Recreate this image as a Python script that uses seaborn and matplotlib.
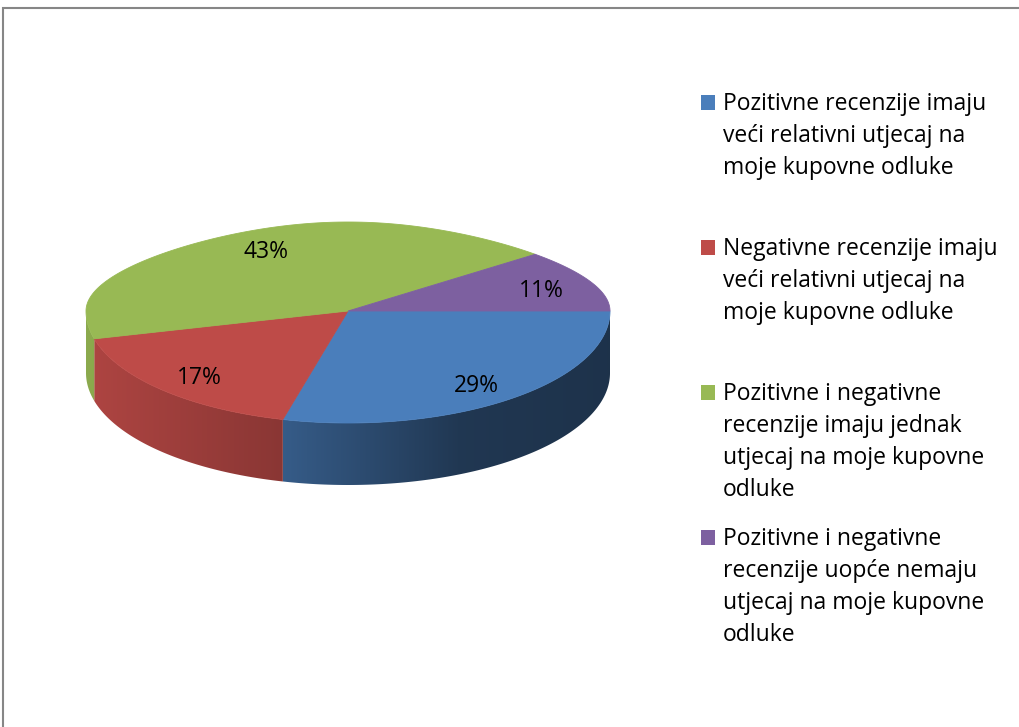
import numpy as np
import matplotlib
matplotlib.use("Agg")
import matplotlib.pyplot as plt
from matplotlib.patches import Polygon, Rectangle
from matplotlib.colors import to_rgb
import seaborn as sns

# ---- data -------------------------------------------------------------
categories = [
    "Pozitivne recenzije imaju\nveći relativni utjecaj na\nmoje kupovne odluke",
    "Negativne recenzije imaju\nveći relativni utjecaj na\nmoje kupovne odluke",
    "Pozitivne i negativne\nrecenzije imaju jednak\nutjecaj na moje kupovne\nodluke",
    "Pozitivne i negativne\nrecenzije uopće nemaju\nutjecaj na moje kupovne\nodluke",
]
shares = [29, 17, 43, 11]
slice_colors = ["#4a7ebb", "#be4b48", "#98b954", "#7d60a0"]

# ---- style ------------------------------------------------------------
sns.set_theme(style="white")
plt.rcParams["font.family"] = ["Open Sans", "DejaVu Sans"]
palette = sns.color_palette(slice_colors)

W, H = 1020, 727
fig = plt.figure(figsize=(W / 100, H / 100), dpi=100)
ax = fig.add_axes([0, 0, 1, 1])
ax.set_xlim(0, W)
ax.set_ylim(H, 0)
ax.axis("off")

# ---- 3-D pie geometry (pixel space) -----------------------------------
CX, CY = 348, 311          # apex of the wedges
A = 262                    # horizontal radius
B_BACK, B_FRONT = 89, 112  # vertical radius behind / in front of the apex
SQUEEZE = 0.18             # perspective narrowing of the far half
DEPTH = 62                 # thickness of the disc


def rim(theta_deg, r=1.0):
    t = np.radians(np.asarray(theta_deg, dtype=float))
    s, c = np.sin(t), np.cos(t)
    back = s > 0
    x = CX + A * r * c * np.where(back, 1 - SQUEEZE * s ** 2, 1.0)
    y = CY - r * s * np.where(back, B_BACK, B_FRONT)
    return x, y


def wall_shade(x):
    return np.interp(x, [86, 288, 460, 610], [0.92, 0.72, 0.44, 0.40])


# slices run clockwise from 3 o'clock
bounds = np.concatenate([[0.0], -360.0 * np.cumsum(shares) / sum(shares)])

# side walls (only the near half of the rim is visible), shaded left -> right
for i, col in enumerate(palette):
    hi, lo = bounds[i], bounds[i + 1]
    lo_v, hi_v = max(lo, -180.0), min(hi, 0.0)
    if lo_v >= hi_v:
        continue
    th = np.linspace(hi_v, lo_v, 200)
    xs, ys = rim(th)
    outline = np.column_stack([np.r_[xs, xs[::-1]],
                               np.r_[ys, ys[::-1] + DEPTH]])
    wall = Polygon(outline, closed=True, facecolor="none", edgecolor="none")
    ax.add_patch(wall)
    x0, x1 = outline[:, 0].min() - 1, outline[:, 0].max() + 1
    y0, y1 = outline[:, 1].min() - 1, outline[:, 1].max() + 1
    gx = np.linspace(x0, x1, 400)
    grad = np.clip(np.array(to_rgb(col))[None, :] * wall_shade(gx)[:, None], 0, 1)
    img = ax.imshow(grad[None, :, :], extent=(x0, x1, y1, y0), aspect="auto",
                    interpolation="bilinear", zorder=2)
    img.set_clip_path(wall)

ax.set_xlim(0, W)
ax.set_ylim(H, 0)

# top faces
for i, col in enumerate(palette):
    th = np.linspace(bounds[i], bounds[i + 1], 200)
    xs, ys = rim(th)
    pts = np.column_stack([np.r_[CX, xs], np.r_[CY, ys]])
    ax.add_patch(Polygon(pts, closed=True, facecolor=col, edgecolor=col,
                         linewidth=0.6, zorder=3))

# percentage labels
for i, v in enumerate(shares):
    mid = 0.5 * (bounds[i] + bounds[i + 1])
    lx, ly = rim(mid, 0.8)
    ax.text(float(lx), float(ly) + 4, f"{v}%", ha="center", va="center",
            fontsize=16.5, color="black", zorder=4)

# ---- legend ------------------------------------------------------------
LEG_X, LEG_Y0, LEG_STEP, LINE_STEP = 701, 102.5, 145, 32
for i, (label, col) in enumerate(zip(categories, palette)):
    yc = LEG_Y0 + i * LEG_STEP
    ax.add_patch(Rectangle((LEG_X, yc - 7.5), 14, 15, facecolor=col,
                           edgecolor="none", zorder=3))
    for j, line in enumerate(label.split("\n")):
        ax.text(LEG_X + 22, yc + 7.5 + j * LINE_STEP, line, ha="left",
                va="baseline", fontsize=16.5, color="black")

# ---- chart-area frame ---------------------------------------------------
ax.plot([3.5, 3.5, W], [H, 7.5, 7.5], color="#868686", linewidth=1.5,
        solid_joinstyle="miter", zorder=5)

fig.savefig("out.png", dpi=100)
